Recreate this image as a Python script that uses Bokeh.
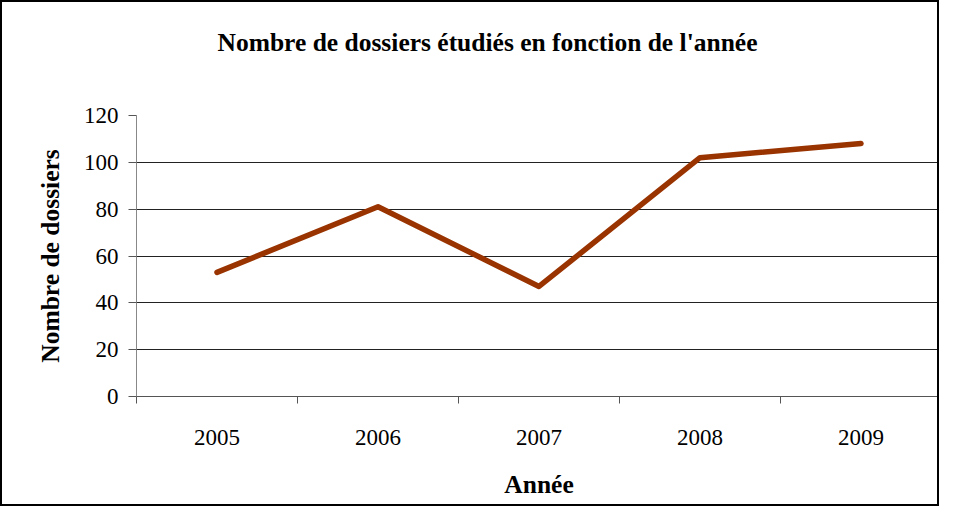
from bokeh.plotting import figure
from bokeh.models import FixedTicker, Range1d, Title
from bokeh.embed import file_html
from bokeh.resources import INLINE

years = ["2005", "2006", "2007", "2008", "2009"]
dossiers = [53, 81, 47, 102, 108]
y_ticks = [0, 20, 40, 60, 80, 100, 120]

FONT = "Liberation Serif"
TICK_FONT = "'Times New Roman', 'Liberation Serif', serif"

xs = [i + 0.5 for i in range(len(years))]
boundaries = list(range(len(years) + 1))

p = figure(width=939, height=506, output_backend="svg", toolbar_location=None,
           x_range=Range1d(0, len(years)), y_range=Range1d(0, 120),
           min_border_left=134, min_border_right=0, min_border_top=10, min_border_bottom=112)
p.styles = {"border": "2px solid black"}
p.background_fill_color = "white"
p.border_fill_color = "white"
p.outline_line_color = None

p.title = Title(text="Nombre de dossiers étudiés en fonction de l'année",
                text_font=FONT, text_font_size="25.5px", text_font_style="bold",
                align="left", standoff=46, offset=81, text_color="black")
# empty spacer between the title and the plotting area
p.add_layout(Title(text=" ", text_font_size="10px", standoff=23), "above")

p.line(xs, dossiers, line_color="#993300", line_width=5.5, line_cap="round", line_join="round")

# x axis
p.xaxis.ticker = FixedTicker(ticks=xs, minor_ticks=boundaries)
p.xaxis.major_label_overrides = {x: y for x, y in zip(xs, years)}
p.xaxis.major_tick_out = 0
p.xaxis.major_tick_in = 0
p.xaxis.minor_tick_out = 7
p.xaxis.minor_tick_in = 0
p.xaxis.minor_tick_line_color = "#555555"
p.xaxis.axis_line_color = "#555555"
p.xaxis.major_label_standoff = 26
p.xaxis.axis_label = "Année"
p.xaxis.axis_label_standoff = 22
p.xgrid.visible = False

# y axis
p.yaxis.ticker = FixedTicker(ticks=y_ticks)
p.yaxis.minor_tick_line_color = None
p.yaxis.major_tick_out = 8
p.yaxis.major_tick_in = 0
p.yaxis.major_tick_line_color = "#555555"
p.yaxis.axis_line_color = "#888888"
p.yaxis.major_label_standoff = 10
p.yaxis.axis_label = "Nombre de dossiers"
p.yaxis.axis_label_standoff = 16
p.ygrid.grid_line_color = "#222222"
p.ygrid.grid_line_width = 1

p.axis.major_label_text_font = TICK_FONT
p.axis.major_label_text_font_size = "23px"
p.axis.major_label_text_color = "black"
p.axis.axis_label_text_font = FONT
p.axis.axis_label_text_font_size = "25.5px"
p.axis.axis_label_text_font_style = "bold"
p.axis.axis_label_text_color = "black"
p.yaxis.major_label_orientation = "horizontal"

open("out.html", "w").write(file_html(p, INLINE))
